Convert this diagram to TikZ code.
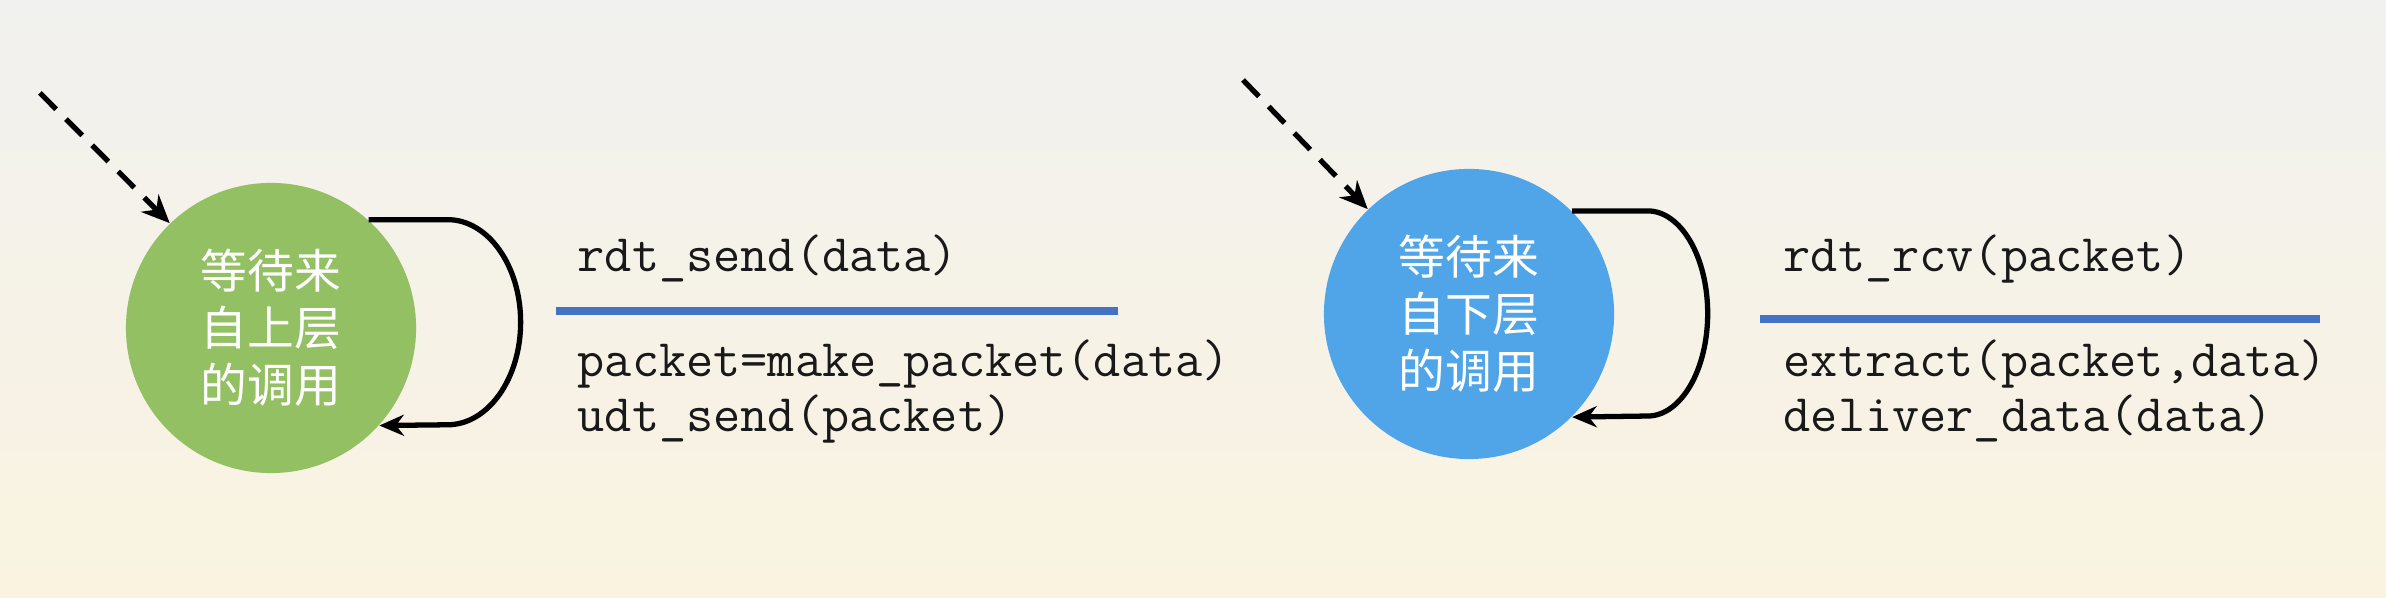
\documentclass[tikz,border=0pt]{standalone}
\usepackage{fontspec}
\newfontfamily\cjk{Noto Sans CJK SC}
\usetikzlibrary{arrows.meta}
\definecolor{bgtop}{HTML}{F1F1EF}
\definecolor{bgbot}{HTML}{FAF3E0}
\definecolor{stategreen}{HTML}{93C062}
\definecolor{stateblue}{HTML}{50A5E8}
\definecolor{rulecolor}{HTML}{4472C4}
\begin{document}
\begin{tikzpicture}[x=0.01cm,y=-0.01cm,
  state/.style={circle,minimum size=2.9cm,inner sep=0pt,text=white,align=center,
    font=\cjk\fontsize{13.3}{16.2}\selectfont},
  code/.style={anchor=base west,inner sep=0pt,text=black!90,
    font=\ttfamily\addfontfeatures{FakeBold=0.6}\fontsize{15}{16}\selectfont},
  initarrow/.style={line width=1.5pt,dash pattern=on 6.5pt off 4pt,
    -{Stealth[length=8pt,width=7pt]}},
  selfloop/.style={line width=1.5pt,-{Stealth[length=7pt,width=6pt]}},
  sepline/.style={draw=rulecolor,line width=2.3pt}]
\shade[top color=bgtop,bottom color=bgbot] (0,0) rectangle (2386,598);
\useasboundingbox (0,0) rectangle (2386,598);
% states
\node[state,fill=stategreen] (S) at (271,328) {等待来\\自上层\\的调用};
\node[state,fill=stateblue] (R) at (1469,314) {等待来\\自下层\\的调用};
% initial arrows
\coordinate (S0) at (40,93);
\coordinate (R0) at (1243,80);
\draw[initarrow] (S0) -- (S.134);
\draw[initarrow] (R0) -- (R.134);
% self loops
\draw[selfloop] (S.48) -- ++(0.79cm,0)
  arc[start angle=90,end angle=-90,x radius=0.73cm,y radius=1.025cm] -- (S.-42);
\draw[selfloop] (R.45) -- ++(0.755cm,0)
  arc[start angle=90,end angle=-90,x radius=0.6cm,y radius=1.025cm] -- (R.-45);
% sender transition label
\node[code] (Sev) at (577,272) {rdt\_send(data)};
\coordinate (Sl1) at (556,311);
\coordinate (Sl2) at (1118,311);
\draw[sepline] (Sl1) -- (Sl2);
\node[code] (Sa1) at (577,377) {packet=make\_packet(data)};
\node[code] (Sa2) at (577,432) {udt\_send(packet)};
% receiver transition label
\node[code] (Rev) at (1783,272) {rdt\_rcv(packet)};
\coordinate (Rl1) at (1760,319);
\coordinate (Rl2) at (2320,319);
\draw[sepline] (Rl1) -- (Rl2);
\node[code] (Ra1) at (1783,377) {extract(packet,data)};
\node[code] (Ra2) at (1783,432) {deliver\_data(data)};
\end{tikzpicture}
\end{document}
